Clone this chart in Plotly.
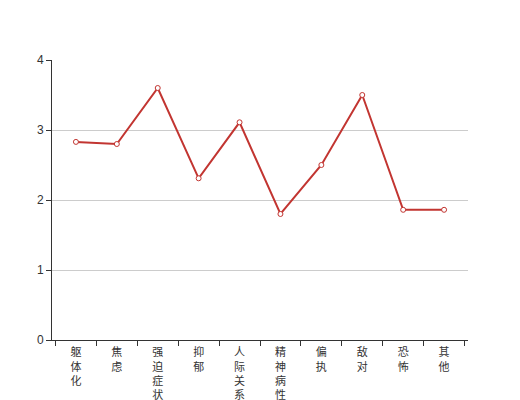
import plotly.graph_objects as go

categories = ["躯体化", "焦虑", "强迫症状", "抑郁", "人际关系敏感", "精神病性", "偏执", "敌对", "恐怖", "其他"]
values = [2.83, 2.80, 3.60, 2.31, 3.11, 1.80, 2.50, 3.50, 1.86, 1.86]
y_ticks = [0, 1, 2, 3, 4]

tick_text = ["<br>".join(list(c)) for c in categories]

fig = go.Figure()
fig.add_trace(go.Scatter(
    x=categories, y=values, mode="lines+markers",
    line=dict(color="#c23531", width=2),
    marker=dict(symbol="circle", size=5, color="white", line=dict(color="#c23531", width=1)),
    showlegend=False, hoverinfo="x+y",
))

fig.update_layout(
    width=512, height=392,
    margin=dict(l=44, r=52, t=52, b=60),
    plot_bgcolor="white", paper_bgcolor="white",
    font=dict(family="Liberation Sans, Noto Sans CJK SC, sans-serif", size=12, color="#333"),
    xaxis=dict(
        type="category", tickmode="array", tickvals=categories, ticktext=tick_text,
        tickson="boundaries", ticks="outside", ticklen=5, tickcolor="#333",
        showline=True, linecolor="#333", linewidth=1, showgrid=False,
        tickfont=dict(size=11, color="#333"), tickangle=0, automargin=False,
        ticklabelstandoff=2,
    ),
    yaxis=dict(
        range=[0, 4], tickvals=y_ticks, ticks="outside", ticklen=5, tickcolor="#333",
        showline=True, linecolor="#333", linewidth=1,
        showgrid=True, gridcolor="#ccc", gridwidth=1, zeroline=False,
        tickfont=dict(size=12, color="#333"), automargin=False,
    ),
)

fig.write_html("out.html")
